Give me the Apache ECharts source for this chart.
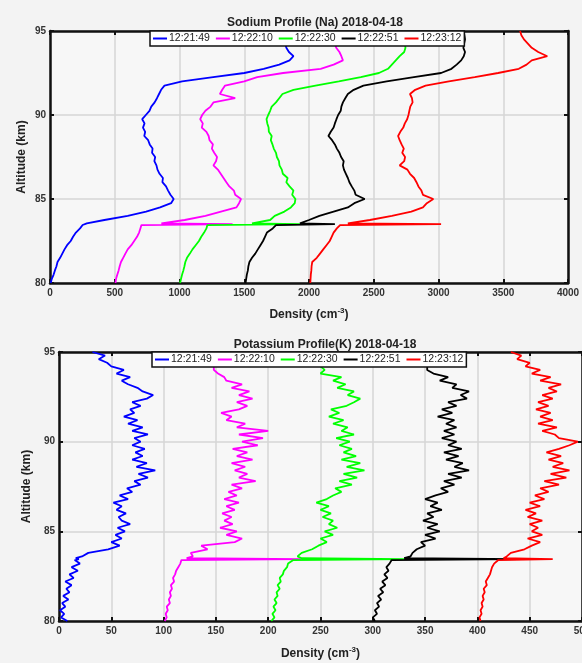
<!DOCTYPE html>
<html>
<head>
<meta charset="utf-8">
<script src="https://cdn.jsdelivr.net/npm/echarts@6/dist/echarts.min.js"></script>
<style>
html, body { margin: 0; padding: 0; background: #f3f3f3; }
#chart { width: 582px; height: 663px; }
</style>
</head>
<body>
<div id="chart"></div>
<script>
// 图例时间
const times = ['12:21:49', '12:22:10', '12:22:30', '12:22:51', '12:23:12']
const colors = ['#0000ff', '#ff00ff', '#00ff00', '#000000', '#ff0000']

// 钠层高度 (km)
const naAlt = [80, 80.25, 80.5, 80.75, 81, 81.25, 81.5, 81.75, 82, 82.25, 82.5, 82.75, 83, 83.25, 83.45, 83.5, 83.55,
    83.75, 84, 84.25, 84.5, 84.75, 85, 85.25, 85.5, 85.75, 86, 86.25, 86.5, 86.75, 87, 87.25, 87.5, 87.75, 88, 88.25,
    88.5, 88.75, 89, 89.25, 89.5, 89.75, 90, 90.25, 90.5, 90.75, 91, 91.25, 91.5, 91.75, 92, 92.25, 92.5, 92.75, 93,
    93.25, 93.5, 93.75, 94, 94.25, 94.5, 94.75, 95]
// 钠密度 (cm^-3)
const na1 = [5, 14, 28, 38, 50, 58, 78, 95, 112, 132, 160, 178, 200, 232, 252, 262, 284,
    420, 600, 742, 850, 935, 955, 930, 912, 896, 868, 872, 846, 830, 822, 806, 812, 788, 792, 770,
    758, 728, 735, 718, 730, 712, 740, 768, 782, 808, 826, 842, 858, 884, 1020, 1260, 1500, 1650, 1770,
    1850, 1880, 1845, 1825, 1815, 1800, 1795, 1785]
const na2 = [505, 510, 520, 530, 538, 548, 565, 582, 600, 628, 650, 672, 688, 698, 706, 1410, 860,
    1040, 1200, 1320, 1440, 1460, 1475, 1430, 1420, 1385, 1362, 1340, 1318, 1296, 1262, 1282, 1290, 1268, 1250, 1258,
    1232, 1225, 1208, 1172, 1180, 1160, 1175, 1200, 1240, 1262, 1430, 1312, 1330, 1352, 1500, 1600, 1800, 2090, 2190,
    2262, 2250, 2235, 2210, 2200, 2195, 2190, 2185]
const na3 = [1004, 1012, 1020, 1030, 1038, 1045, 1058, 1080, 1100, 1125, 1150, 1168, 1190, 1208, 1215, 1930, 1560,
    1700, 1735, 1810, 1860, 1890, 1895, 1870, 1880, 1850, 1825, 1835, 1798, 1790, 1772, 1768, 1752, 1745, 1728, 1718,
    1705, 1712, 1690, 1688, 1678, 1672, 1685, 1700, 1712, 1745, 1770, 1795, 1880, 2050, 2230, 2400, 2540, 2610, 2640,
    2670, 2700, 2735, 2745, 2740, 2735, 2730, 2725]
const na4 = [1510, 1515, 1520, 1528, 1532, 1540, 1560, 1585, 1605, 1625, 1645, 1660, 1675, 1720, 1745, 2200, 1930,
    2000, 2080, 2190, 2300, 2350, 2430, 2360, 2350, 2330, 2312, 2300, 2285, 2270, 2262, 2268, 2248, 2235, 2215, 2200,
    2178, 2150, 2168, 2190, 2200, 2212, 2225, 2245, 2250, 2262, 2280, 2300, 2345, 2420, 2600, 2810, 3020, 3100, 3140,
    3175, 3195, 3205, 3192, 3198, 3205, 3200, 3195]
const na5 = [2010, 2012, 2014, 2018, 2020, 2025, 2060, 2085, 2110, 2135, 2160, 2175, 2190, 2215, 2240, 3020, 2300,
    2470, 2640, 2790, 2880, 2910, 2960, 2880, 2868, 2845, 2830, 2812, 2780, 2760, 2700, 2735, 2742, 2720, 2732, 2715,
    2700, 2688, 2705, 2728, 2740, 2758, 2768, 2775, 2782, 2800, 2795, 2780, 2820, 2900, 3080, 3280, 3460, 3620, 3680,
    3720, 3840, 3770, 3720, 3690, 3660, 3640, 3630]

// 钾层高度 (km)
const kAlt = [80, 80.2, 80.4, 80.6, 80.8, 81, 81.2, 81.4, 81.6, 81.8, 82, 82.2, 82.4, 82.6, 82.8, 83, 83.2, 83.4,
    83.45, 83.5, 83.6, 83.8, 84, 84.2, 84.4, 84.6, 84.8, 85, 85.2, 85.4, 85.6, 85.8, 86, 86.2, 86.4, 86.6, 86.8, 87,
    87.2, 87.4, 87.6, 87.8, 88, 88.2, 88.4, 88.6, 88.8, 89, 89.2, 89.4, 89.6, 89.8, 90, 90.2, 90.4, 90.6, 90.8, 91,
    91.2, 91.4, 91.6, 91.8, 92, 92.2, 92.4, 92.6, 92.8, 93, 93.2, 93.4, 93.6, 93.8, 94, 94.2, 94.4, 94.6, 94.8, 95]
// 钾密度 (cm^-3)
const k1 = [8, 2, 5, 1, 6, 3, 9, 4, 10, 7, 12, 6, 14, 10, 18, 12, 20, 15,
    19, 16, 22, 28, 47, 58, 50, 60, 54, 63, 56, 68, 60, 57, 64, 55, 60, 52, 66, 58,
    70, 65, 78, 72, 85, 76, 92, 74, 84, 70, 80, 73, 82, 70, 78, 72, 85, 70, 80, 66,
    75, 62, 72, 68, 78, 70, 84, 90, 80, 75, 66, 60, 68, 55, 62, 50, 46, 38, 44, 32]
const k2 = [101, 103, 102, 104, 103, 106, 105, 107, 106, 108, 107, 110, 109, 111, 112, 114, 116, 117,
    232, 122, 128, 126, 142, 136, 168, 175, 160, 170, 154, 166, 158, 165, 156, 168, 160, 172, 158, 170,
    162, 175, 165, 188, 172, 180, 168, 178, 165, 185, 170, 180, 166, 190, 175, 195, 172, 200, 170, 178,
    160, 165, 155, 172, 180, 170, 185, 172, 182, 165, 175, 160, 158, 152, 148, 148, 146, 145, 144, 143]
const k3 = [203, 206, 204, 207, 205, 208, 206, 209, 208, 211, 209, 212, 211, 214, 215, 218, 219, 224,
    330, 232, 228, 232, 242, 248, 256, 250, 262, 254, 266, 258, 262, 252, 260, 250, 258, 246, 256, 262,
    270, 264, 280, 268, 285, 272, 292, 275, 288, 270, 284, 272, 280, 268, 278, 265, 282, 270, 276, 262,
    272, 258, 268, 260, 275, 282, 288, 276, 282, 266, 274, 262, 270, 250, 254, 250, 252, 250, 251, 250]
const k4 = [302, 300, 304, 302, 306, 304, 308, 305, 310, 307, 312, 309, 314, 311, 315, 313, 316, 318,
    440, 330, 336, 338, 342, 350, 346, 360, 350, 364, 352, 362, 348, 358, 352, 366, 355, 362, 350, 360,
    372, 365, 378, 368, 385, 372, 392, 378, 386, 370, 382, 368, 385, 372, 380, 366, 378, 368, 380, 370,
    378, 362, 376, 366, 380, 372, 390, 384, 392, 376, 380, 364, 372, 358, 352, 352, 351, 350, 350, 349]
const k5 = [403, 402, 404, 403, 405, 404, 406, 405, 407, 406, 409, 408, 410, 412, 413, 414, 416, 420,
    472, 425, 428, 432, 445, 452, 460, 448, 462, 452, 458, 450, 462, 448, 456, 446, 460, 450, 464, 455,
    468, 460, 478, 464, 485, 470, 488, 472, 482, 468, 480, 466, 478, 488, 496, 478, 474, 462, 476, 458,
    472, 460, 470, 456, 468, 458, 472, 462, 476, 468, 480, 460, 470, 452, 460, 446, 450, 438, 442, 432]

const naSeries = [na1, na2, na3, na4, na5]
const kSeries = [k1, k2, k3, k4, k5]

const font = 'Liberation Sans, Arial, sans-serif'
const labelStyle = { fontSize: 10, fontWeight: 'bold', color: '#333', fontFamily: font, formatter: v => String(v) }
const edge = { show: true, onZero: false, lineStyle: { color: '#111', width: 2.5 } }
const tick = { inside: true, length: 4, lineStyle: { color: '#111', width: 2 } }

function pairs (xs, ys) {
    return xs.map((v, i) => [v, ys[i]])
}

function xMain (gridIndex, max, interval, gap) {
    return {
        type: 'value',
        gridIndex: gridIndex,
        min: 0,
        max: max,
        interval: interval,
        name: '{a|Density (cm}{s|-3}{a|)}',
        nameLocation: 'middle',
        nameGap: gap,
        nameTextStyle: {
            rich: {
                a: { fontSize: 12, fontWeight: 'bold', color: '#222', fontFamily: font, lineHeight: 15 },
                s: { fontSize: 8, fontWeight: 'bold', color: '#222', fontFamily: font, verticalAlign: 'top', lineHeight: 15 }
            }
        },
        axisLine: edge,
        axisTick: tick,
        axisLabel: Object.assign({ margin: 5 }, labelStyle),
        splitLine: { show: true, lineStyle: { color: '#d6d6d6', width: 1.5 } }
    }
}

function xTop (gridIndex, max, interval) {
    return {
        type: 'value',
        gridIndex: gridIndex,
        position: 'top',
        min: 0,
        max: max,
        interval: interval,
        axisLine: edge,
        axisTick: tick,
        axisLabel: { show: false },
        splitLine: { show: false }
    }
}

function yMain (gridIndex, gap) {
    return {
        type: 'value',
        gridIndex: gridIndex,
        min: 80,
        max: 95,
        interval: 5,
        name: 'Altitude (km)',
        nameLocation: 'middle',
        nameGap: gap,
        nameMoveOverlap: false,
        nameTextStyle: { fontSize: 12, fontWeight: 'bold', color: '#222', fontFamily: font },
        axisLine: edge,
        axisTick: tick,
        axisLabel: Object.assign({ margin: 4 }, labelStyle),
        splitLine: { show: true, lineStyle: { color: '#d6d6d6', width: 1.5 } }
    }
}

function yRight (gridIndex) {
    return {
        type: 'value',
        gridIndex: gridIndex,
        position: 'right',
        min: 80,
        max: 95,
        interval: 5,
        axisLine: edge,
        axisTick: tick,
        axisLabel: { show: false },
        splitLine: { show: false }
    }
}

function legend (left, top) {
    return {
        data: times,
        left: left,
        top: top,
        orient: 'horizontal',
        icon: 'rect',
        itemWidth: 14,
        itemHeight: 2,
        itemGap: 6,
        padding: [2, 3],
        backgroundColor: '#ffffff',
        borderColor: '#111',
        borderWidth: 1.5,
        borderRadius: 0,
        selectedMode: false,
        textStyle: { fontSize: 10.5, color: '#222', fontFamily: font, padding: [0, 0, 0, -3] }
    }
}

let seriesData = []
naSeries.forEach((d, i) => {
    seriesData.push({
        name: times[i],
        type: 'line',
        xAxisIndex: 0,
        yAxisIndex: 0,
        showSymbol: false,
        animation: false,
        lineStyle: { color: colors[i], width: 1.8 },
        itemStyle: { color: colors[i] },
        data: pairs(d, naAlt)
    })
})
kSeries.forEach((d, i) => {
    seriesData.push({
        name: times[i],
        type: 'line',
        xAxisIndex: 2,
        yAxisIndex: 2,
        showSymbol: false,
        animation: false,
        lineStyle: { color: colors[i], width: 1.8 },
        itemStyle: { color: colors[i] },
        data: pairs(d, kAlt)
    })
})

let option = {
    backgroundColor: '#f3f3f3',
    animation: false,
    title: [
        {
            text: 'Sodium Profile (Na) 2018-04-18',
            left: 310,
            textAlign: 'center',
            top: 12,
            textStyle: { fontSize: 12, fontWeight: 'bold', color: '#222', fontFamily: font }
        },
        {
            text: 'Potassium Profile(K) 2018-04-18',
            left: 320,
            textAlign: 'center',
            top: 334,
            textStyle: { fontSize: 12, fontWeight: 'bold', color: '#222', fontFamily: font }
        }
    ],
    legend: [legend(150, 31), legend(152, 352)],
    grid: [
        { left: 50, top: 31, width: 518, height: 252, show: true, backgroundColor: '#f7f7f7', borderWidth: 0, outerBoundsMode: 'none' },
        { left: 59, top: 352, width: 523, height: 269, show: true, backgroundColor: '#f7f7f7', borderWidth: 0, outerBoundsMode: 'none' }
    ],
    xAxis: [xMain(0, 4000, 500, 24), xTop(0, 4000, 500), xMain(1, 500, 50, 25), xTop(1, 500, 50)],
    yAxis: [yMain(0, 22), yRight(0), yMain(1, 26), yRight(1)],
    series: seriesData
}

let myChart = echarts.init(document.getElementById('chart'))
myChart.setOption(option)
</script>
</body>
</html>
